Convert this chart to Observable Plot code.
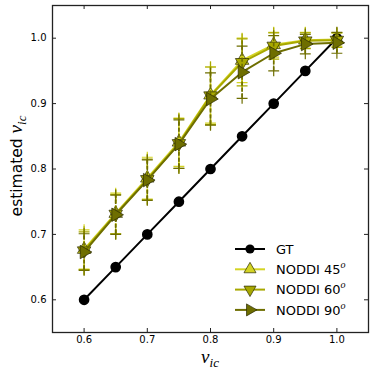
<!DOCTYPE html>
<html>
<head>
<meta charset="utf-8">
<script src="https://cdn.jsdelivr.net/npm/d3@7"></script>
<script src="https://cdn.jsdelivr.net/npm/@observablehq/plot@0.6"></script>
<style>
  html, body { margin: 0; padding: 0; background: white; }
</style>
</head>
<body>
<div id="chart"></div>
<script>
// ---- data ----
const xVals = [0.6, 0.65, 0.7, 0.75, 0.8, 0.85, 0.9, 0.95, 1.0];
const gtVals = [0.6, 0.65, 0.7, 0.75, 0.8, 0.85, 0.9, 0.95, 1.0];
const noddi45 = [0.677, 0.732, 0.786, 0.841, 0.913, 0.966, 0.990, 0.997, 0.998];
const noddi45sd = [0.030, 0.031, 0.032, 0.037, 0.043, 0.034, 0.019, 0.012, 0.010];
const noddi60 = [0.675, 0.731, 0.784, 0.839, 0.912, 0.963, 0.988, 0.996, 0.997];
const noddi60sd = [0.029, 0.030, 0.031, 0.038, 0.044, 0.036, 0.020, 0.012, 0.011];
const noddi90 = [0.673, 0.730, 0.783, 0.838, 0.907, 0.948, 0.977, 0.991, 0.993];
const noddi90sd = [0.028, 0.030, 0.031, 0.037, 0.040, 0.040, 0.027, 0.015, 0.016];
const xTicks = [0.6, 0.7, 0.8, 0.9, 1.0];
const yTicks = [0.6, 0.7, 0.8, 0.9, 1.0];
const seriesNames = ["GT", "NODDI 45", "NODDI 60", "NODDI 90"];
const seriesColors = ["#000000", "#d4d424", "#a8a800", "#6e6e00"];

// ---- build ----
const W = 374, H = 376, mL = 52, mR = 6, mT = 5, mB = 44;
const plotW = W - mL - mR, plotH = H - mT - mB, tk = 4;
const gt = xVals.map((x, i) => ({x, y: gtVals[i]}));
const series = [
  {name: seriesNames[1], color: seriesColors[1], rotate: 0, m: noddi45, s: noddi45sd},
  {name: seriesNames[2], color: seriesColors[2], rotate: 180, m: noddi60, s: noddi60sd},
  {name: seriesNames[3], color: seriesColors[3], rotate: 90, m: noddi90, s: noddi90sd}
].map(d => ({...d, rows: xVals.map((x, i) => ({x, y: d.m[i], lo: d.m[i] - d.s[i], hi: d.m[i] + d.s[i]}))}));

const marks = [
  Plot.axisX(xTicks, {anchor: "bottom", tickSize: 0, tickPadding: 3, tickFormat: d3.format(".1f"), label: null, fontSize: 10}),
  Plot.axisY(yTicks, {anchor: "left", tickSize: 0, tickPadding: 6, tickFormat: d3.format(".1f"), label: null, fontSize: 10}),
  // inward ticks on all four sides
  Plot.ruleX(xTicks, {x: d => d, insetBottom: plotH - tk, stroke: "#222"}),
  Plot.ruleX(xTicks, {x: d => d, insetTop: plotH - tk, stroke: "#222"}),
  Plot.ruleY(yTicks, {y: d => d, insetRight: plotW - tk, stroke: "#222"}),
  Plot.ruleY(yTicks, {y: d => d, insetLeft: plotW - tk, stroke: "#222"}),
  Plot.line(gt, {x: "x", y: "y", stroke: "black", strokeWidth: 2}),
  Plot.dot(gt, {x: "x", y: "y", r: 4.6, fill: "black", stroke: "black"})
];
for (const s of series) {
  marks.push(
    Plot.ruleX(s.rows, {x: "x", y1: "lo", y2: "hi", stroke: s.color, strokeWidth: 1.6, strokeDasharray: "4,2"}),
    Plot.dot(s.rows, {x: "x", y: "lo", symbol: "plus", r: 3.6, stroke: s.color, strokeWidth: 1.2}),
    Plot.dot(s.rows, {x: "x", y: "hi", symbol: "plus", r: 3.6, stroke: s.color, strokeWidth: 1.2}),
    Plot.line(s.rows, {x: "x", y: "y", stroke: s.color, strokeWidth: 2}),
    Plot.dot(s.rows, {x: "x", y: "y", symbol: "triangle", r: 5, rotate: s.rotate, fill: s.color, stroke: "#2a2a00", strokeWidth: 0.7})
  );
}
marks.push(Plot.frame({stroke: "#222", strokeWidth: 1.3}));

const chart = Plot.plot({
  width: W,
  height: H,
  marginLeft: mL,
  marginRight: mR,
  marginTop: mT,
  marginBottom: mB,
  x: {domain: [0.55, 1.05]},
  y: {domain: [0.55, 1.05]},
  style: {fontFamily: "DejaVu Sans", fontSize: "10px", background: "white", color: "black"},
  marks
});

document.getElementById("chart").appendChild(chart);

// ---- labels and legend ----
const svg = d3.select(chart);

// y label
const yl = svg.append("text")
  .attr("transform", "translate(22,166) rotate(-90)")
  .attr("text-anchor", "middle")
  .attr("fill", "black");
yl.append("tspan").attr("font-family", "DejaVu Sans").attr("font-size", 15.5).text("estimated ");
yl.append("tspan").attr("font-family", "Liberation Serif").attr("font-style", "italic").attr("font-size", 19).text("ν");
yl.append("tspan").attr("font-family", "Liberation Serif").attr("font-style", "italic").attr("font-size", 13).attr("dy", 4).text("ic");

// x label
const xl = svg.append("text")
  .attr("x", 210).attr("y", 363)
  .attr("text-anchor", "middle")
  .attr("fill", "black");
xl.append("tspan").attr("font-family", "Liberation Serif").attr("font-style", "italic").attr("font-size", 19).text("ν");
xl.append("tspan").attr("font-family", "Liberation Serif").attr("font-style", "italic").attr("font-size", 13).attr("dy", 4).text("ic");

// legend
const legend = svg.append("g").attr("transform", "translate(235,249)");
const legendItems = [
  {name: seriesNames[0], color: seriesColors[0], sym: "circle", rot: 0},
  {name: seriesNames[1], color: seriesColors[1], sym: "triangle", rot: 0},
  {name: seriesNames[2], color: seriesColors[2], sym: "triangle", rot: 180},
  {name: seriesNames[3], color: seriesColors[3], sym: "triangle", rot: 90}
];
legendItems.forEach((d, i) => {
  const g = legend.append("g").attr("transform", `translate(0,${i * 20.3})`);
  g.append("line").attr("x1", 0).attr("x2", 30).attr("y1", 0).attr("y2", 0)
    .attr("stroke", d.color).attr("stroke-width", 2);
  if (d.sym === "circle") {
    g.append("circle").attr("cx", 15).attr("cy", 0).attr("r", 4.6).attr("fill", "black");
  } else {
    const p = d3.symbol(d3.symbolTriangle, Math.PI * 20)();
    g.append("path").attr("d", p).attr("transform", `translate(15,0) rotate(${d.rot})`)
      .attr("fill", d.color).attr("stroke", "#2a2a00").attr("stroke-width", 0.7);
  }
  const t = g.append("text").attr("x", 41).attr("y", 4.6).attr("text-anchor", "start")
    .attr("font-family", "DejaVu Sans").attr("font-size", 13).attr("fill", "black");
  t.append("tspan").text(d.name);
  if (i > 0) {
    t.append("tspan").attr("font-family", "Liberation Serif").attr("font-style", "italic")
      .attr("font-size", 10).attr("dy", -6).text("o");
  }
});
</script>
</body>
</html>
